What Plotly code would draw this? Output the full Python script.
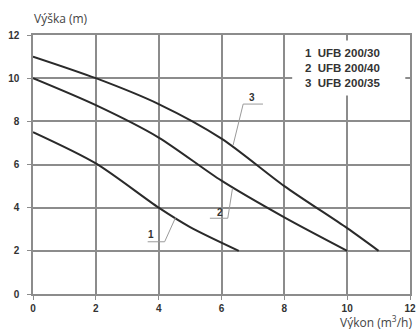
import plotly.graph_objects as go

# pump curves: flow (m3/h) vs head (m)
flow_1 = [0, 2, 4, 5, 6.55]
head_1 = [7.5, 6.05, 4.0, 3.1, 2.0]

flow_2 = [0, 2, 4, 6, 8, 10]
head_2 = [10.0, 8.75, 7.25, 5.25, 3.55, 2.0]

flow_3 = [0, 2, 4, 6, 8, 10, 11]
head_3 = [11.0, 10.0, 8.8, 7.2, 5.0, 3.05, 2.0]

legend_lines = ["1  UFB 200/30", "2  UFB 200/40", "3  UFB 200/35"]
tick_vals = [0, 2, 4, 6, 8, 10, 12]

GRID = "#8c8c8c"
CURVE = "#2a2a2a"
LEADER = "#9a9a9a"

fig = go.Figure()

for xs, ys in [(flow_1, head_1), (flow_2, head_2), (flow_3, head_3)]:
    fig.add_trace(go.Scatter(
        x=xs, y=ys, mode="lines",
        line=dict(color=CURVE, width=2, shape="spline", smoothing=0.8),
        showlegend=False, hoverinfo="skip",
    ))

# white box behind the curve list (hides grid)
fig.add_shape(type="rect", x0=8.25, x1=11.85, y0=9.2, y1=11.75,
              fillcolor="white", line=dict(width=0), layer="above")

# leader lines for curve numbers: (horizontal x0, x1, y), end point on curve, label pos
leaders = [
    ("1", 3.65, 4.19, 2.42, 4.54, 3.55, 3.77, 2.75),
    ("2", 5.63, 6.20, 3.51, 6.35, 4.90, 5.95, 3.76),
    ("3", 6.69, 7.32, 8.80, 6.37, 6.90, 6.96, 9.12),
]
for lab, hx0, hx1, hy, ex, ey, tx, ty in leaders:
    fig.add_shape(type="line", x0=hx0, x1=hx1, y0=hy, y1=hy,
                  line=dict(color=LEADER, width=1))
    sx = hx1 if lab != "3" else hx0
    fig.add_shape(type="line", x0=sx, x1=ex, y0=hy, y1=ey,
                  line=dict(color=LEADER, width=1))
    fig.add_annotation(x=tx, y=ty, text=f"<b>{lab}</b>", showarrow=False,
                       font=dict(family="Liberation Sans", size=10, color="#333"))

for i, line in enumerate(legend_lines):
    fig.add_annotation(x=8.6, y=11.15 - i * 0.68, text=f"<b>{line}</b>",
                       showarrow=False, xanchor="left",
                       font=dict(family="Liberation Sans", size=11.5, color="#333"))

fig.add_annotation(xref="paper", yref="paper", x=-0.003, y=1.025, xanchor="left",
                   yanchor="bottom", text="Výška (m)", showarrow=False,
                   font=dict(family="Open Sans", size=12, color="#444"))
fig.add_annotation(xref="paper", yref="paper", x=1.01, y=-0.065, xanchor="right",
                   yanchor="top", text="Výkon (m<sup>3</sup>/h)", showarrow=False,
                   font=dict(family="Open Sans", size=12, color="#444"))

axis_common = dict(
    showgrid=True, gridcolor=GRID, gridwidth=1.5,
    showline=True, linecolor=GRID, linewidth=1.5, mirror=True,
    zeroline=False, tickvals=tick_vals, automargin=False,
    tickfont=dict(family="Liberation Sans", size=10, color="#333", weight="bold"),
    ticks="outside", ticklen=4, tickcolor=GRID,
)

fig.update_layout(
    width=416, height=329,
    margin=dict(l=33, r=6, t=35, b=35),
    plot_bgcolor="white", paper_bgcolor="white",
    xaxis=dict(range=[0, 12], ticklabelstandoff=0, **axis_common),
    yaxis=dict(range=[0, 12], ticklabelstandoff=6, **axis_common),
)

fig.write_html("out.html", config={"displayModeBar": False},
               post_script="document.body.style.margin='0';")
